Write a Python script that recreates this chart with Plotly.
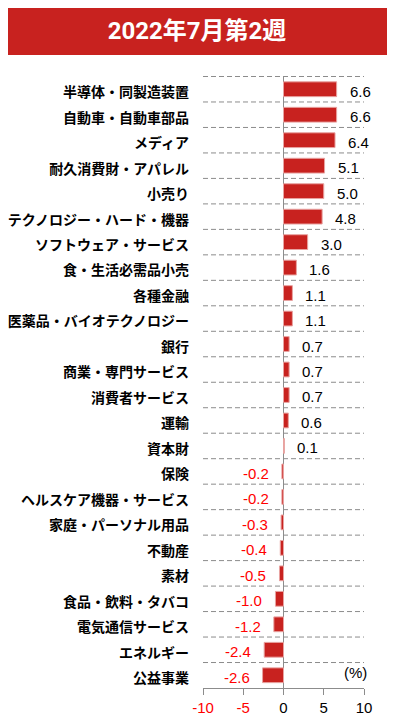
import plotly.graph_objects as go

title = "2022年7月第2週"
categories = ["半導体・同製造装置", "自動車・自動車部品", "メディア", "耐久消費財・アパレル", "小売り",
              "テクノロジー・ハード・機器", "ソフトウェア・サービス", "食・生活必需品小売", "各種金融",
              "医薬品・バイオテクノロジー", "銀行", "商業・専門サービス", "消費者サービス", "運輸", "資本財",
              "保険", "ヘルスケア機器・サービス", "家庭・パーソナル用品", "不動産", "素材",
              "食品・飲料・タバコ", "電気通信サービス", "エネルギー", "公益事業"]
values = [6.6, 6.6, 6.4, 5.1, 5.0, 4.8, 3.0, 1.6, 1.1, 1.1, 0.7, 0.7, 0.7, 0.6, 0.1,
          -0.2, -0.2, -0.3, -0.4, -0.5, -1.0, -1.2, -2.4, -2.6]
tick_vals = [-10, -5, 0, 5, 10]
tick_labels = ["-10", "-5", "0", "5", "10"]
unit_label = "(%)"

RED = "#C8221F"
TXT_RED = "#FF0000"
GRID = "#8C8C8C"
LABEL_FONT = "Noto Sans CJK JP"
NUM_FONT = "Liberation Sans, Arial"

# page has an 8px body margin; the figure is sized/positioned to compensate
OFF = 8
W, H = 395 - OFF, 724 - OFF
L, R_EDGE, T, B_EDGE = 203 - OFF, 364 - OFF, 76 - OFF, 688 - OFF
PW, PH = R_EDGE - L, B_EDGE - T

fig = go.Figure()
fig.add_trace(go.Bar(
    x=values, y=categories, orientation="h", width=0.58,
    marker=dict(color=RED, line=dict(color="#E8A3A1", width=1)),
    hoverinfo="x+y",
))

# value labels
for c, v in zip(categories, values):
    fig.add_annotation(
        x=v, y=c, xref="x", yref="y", text=f"{v:.1f}", showarrow=False,
        xanchor="left" if v >= 0 else "right", xshift=11 if v >= 0 else -11,
        yshift=-2,
        font=dict(family=NUM_FONT, size=15, color="#000000" if v >= 0 else TXT_RED),
    )

# dashed separators between categories (and top border)
n = len(categories)
for i in range(n):
    fig.add_shape(type="line", xref="paper", yref="y", x0=0, x1=1,
                  y0=i - 0.5, y1=i - 0.5,
                  line=dict(color=GRID, width=1, dash="5px,3px"), layer="below")

# title banner
fig.add_shape(type="rect", xref="paper", yref="paper",
              x0=(6 - OFF - L) / PW, x1=(390 - OFF - L) / PW,
              y0=(B_EDGE - (55 - OFF)) / PH, y1=(B_EDGE - (5 - OFF)) / PH,
              fillcolor=RED, line=dict(width=0), layer="above")

fig.add_annotation(xref="paper", yref="paper", x=1, y=(688 - 672) / PH,
                   xanchor="right", yanchor="middle", xshift=5, text=unit_label,
                   showarrow=False, font=dict(family=NUM_FONT, size=15, color="#000000"))

tick_text = [f'<span style="color:{TXT_RED}">{t}</span>' if v < 0 else t
             for v, t in zip(tick_vals, tick_labels)]

fig.update_layout(
    width=W, height=H,
    margin=dict(l=L, r=W - R_EDGE, t=T, b=H - B_EDGE, autoexpand=False),
    paper_bgcolor="white", plot_bgcolor="white",
    showlegend=False,
    title=dict(text=f"<b>{title}</b>", x=(197 - OFF) / W, xref="container", xanchor="center",
               y=1 - (31 - OFF) / H, yref="container", yanchor="middle",
               font=dict(family="Roboto, Noto Sans CJK JP", size=24, color="white")),
    xaxis=dict(range=[-10, 10], tickvals=tick_vals, ticktext=tick_text,
               showgrid=False, zeroline=True, zerolinecolor=GRID, zerolinewidth=1,
               showline=True, linecolor=GRID, linewidth=1, automargin=False,
               ticks="outside", ticklen=6, tickcolor=GRID,
               tickfont=dict(family=NUM_FONT, size=15, color="#000000"), fixedrange=True),
    yaxis=dict(categoryorder="array", categoryarray=categories, autorange="reversed",
               showgrid=False, zeroline=False, showline=False, ticks="",
               ticklabelstandoff=13, ticklabelshift=-3, automargin=False,
               tickfont=dict(family=LABEL_FONT, size=14, color="#000000", weight="bold"),
               fixedrange=True),
)

fig.write_html("out.html")
